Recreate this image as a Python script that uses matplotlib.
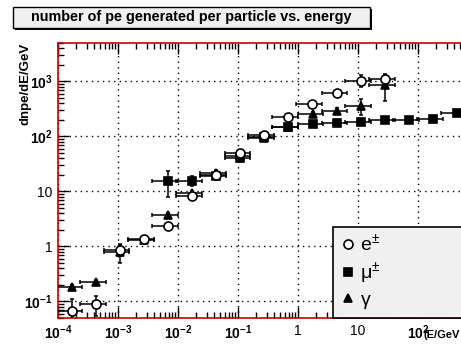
import numpy as np
import matplotlib
matplotlib.use("Agg")
import matplotlib.pyplot as plt
from matplotlib.patches import Rectangle
from matplotlib.ticker import LogLocator, FixedLocator, FixedFormatter, NullFormatter

plt.rcParams['font.family'] = ['Liberation Sans', 'DejaVu Sans']
plt.rcParams['mathtext.fontset'] = 'custom'
plt.rcParams['mathtext.bf'] = 'Liberation Sans:bold'
plt.rcParams['mathtext.rm'] = 'Liberation Sans'
plt.rcParams['mathtext.default'] = 'bf'

# ---- data ----
# electrons (open circles)
e_E   = [1.7e-4, 4.3e-4, 1.07e-3, 2.7e-3, 6.8e-3, 0.017, 0.043, 0.11, 0.27, 0.68, 1.7, 4.5, 11.2, 28]
e_val = [0.066, 0.089, 0.87, 1.36, 2.4, 8.1, 19.6, 50, 106, 224, 385, 620, 1040, 1090]
e_err = [0.045, 0.035, 0.2, 0.15, 0.3, 0.8, 2, 5, 10, 20, 35, 60, 250, 250]

# muons (filled squares)
m_E   = [6.8e-3, 0.017, 0.043, 0.11, 0.27, 0.68, 1.8, 4.5, 11.2, 28, 71, 178, 446]
m_val = [15.8, 15.8, 18.7, 41, 98, 148, 168, 174, 186, 195, 197, 210, 265]
m_err = [8, 3, 2, 4, 8, 10, 10, 8, 8, 8, 8, 8, 15]

# gammas (filled triangles)
g_E   = [1.7e-4, 4.3e-4, 1.07e-3, 2.7e-3, 6.8e-3, 0.017, 0.043, 0.11, 0.27, 0.68, 1.8, 4.5, 11.2, 28]
g_val = [0.18, 0.23, 0.8, 1.3, 3.7, 9.2, 22, 45, 95, 150, 255, 295, 365, 850]
g_err = [0.02, 0.02, 0.3, 0.15, 0.3, 0.8, 3, 5, 10, 15, 25, 40, 120, 400]

x_ticks  = [1e-4, 1e-3, 1e-2, 1e-1, 1, 10, 100]
x_labels = [r'$10^{-4}$', r'$10^{-3}$', r'$10^{-2}$', r'$10^{-1}$', '1', '10', r'$10^{2}$']
y_ticks  = [1e-1, 1, 10, 100, 1000]
y_labels = [r'$10^{-1}$', '1', '10', r'$10^{2}$', r'$10^{3}$']

fig = plt.figure(figsize=(4.61, 3.45), dpi=100)
# right edge of the frame runs off the picture, as in the original
ax = fig.add_axes([58/461, 27/345, 405/461, 275/345])
ax.set_xscale('log')
ax.set_yscale('log')
ax.set_xlim(1e-4, 10**2.75)
ax.set_ylim(0.05, 5000)

def draw(E, v, err, marker, face, ms, label):
    E = np.array(E)
    ax.errorbar(E, v, xerr=0.45 * E, yerr=err, fmt='none', ecolor='black',
                elinewidth=1.1, capsize=1.5, capthick=1.1, zorder=3)
    ax.plot(E, v, linestyle='none', marker=marker, markersize=ms,
            markerfacecolor=face, markeredgecolor='black', markeredgewidth=1.2,
            zorder=4, label=label)

draw(m_E, m_val, m_err, 's', 'black', 6.0, r'$\mathrm{\mu^{\pm}}$')
draw(g_E, g_val, g_err, '^', 'black', 6.0, r'$\mathrm{\gamma}$')
draw(e_E, e_val, e_err, 'o', 'white', 6.5, r'$\mathrm{e^{\pm}}$')

# grid + ticks like ROOT
ax.xaxis.set_major_locator(FixedLocator(x_ticks))
ax.xaxis.set_major_formatter(FixedFormatter(x_labels))
ax.yaxis.set_major_locator(FixedLocator(y_ticks))
ax.yaxis.set_major_formatter(FixedFormatter(y_labels))
ax.xaxis.set_minor_locator(LogLocator(base=10, subs=np.arange(2, 10), numticks=20))
ax.yaxis.set_minor_locator(LogLocator(base=10, subs=np.arange(2, 10), numticks=20))
ax.xaxis.set_minor_formatter(NullFormatter())
ax.yaxis.set_minor_formatter(NullFormatter())
ax.grid(True, which='major', color='black', linestyle=(0, (1, 3)), linewidth=1.0)
ax.tick_params(which='both', direction='in', top=True, right=False, color='black', width=1)
ax.tick_params(which='major', length=8, labelsize=10, pad=4)
ax.tick_params(which='minor', length=4)
for s in ax.spines.values():
    s.set_color('#cc0000')
    s.set_linewidth(1.2)

# legend
h, l = ax.get_legend_handles_labels()
order = [2, 0, 1]
leg = ax.legend([h[i] for i in order], [l[i] for i in order], loc='lower left',
                bbox_to_anchor=(275/405, 0.0, 130/405, 0.3), bbox_transform=ax.transAxes,
                mode='expand', frameon=True, fancybox=False, edgecolor='black',
                facecolor='#f0f0f0', framealpha=1, fontsize=14, handlelength=0.8,
                handletextpad=0.25, borderpad=0.35, labelspacing=0.3, borderaxespad=0)
leg.get_frame().set_linewidth(1.2)
leg.set_zorder(10)

# title box with shadow
fig.patches.append(Rectangle((15/461, 1 - 30/345), 357/461, 21/345, transform=fig.transFigure,
                             facecolor='black', edgecolor='none', zorder=1))
fig.patches.append(Rectangle((13/461, 1 - 28/345), 357/461, 21/345, transform=fig.transFigure,
                             facecolor='#f0f0f0', edgecolor='black', linewidth=1, zorder=2))
fig.text(191.5/461, 1 - 17.5/345, 'number of pe generated per particle vs. energy',
         ha='center', va='center', fontsize=10.4, fontweight='bold', zorder=3)

fig.text(25/461, 1 - 43/345, 'dnpe/dE/GeV', rotation=90, ha='center', va='top',
         fontsize=9.5, fontweight='bold')
fig.text(460/461, 1 - 335/345, '(E/GeV', ha='right', va='center',
         fontsize=8, fontweight='bold')

fig.savefig('out.png', dpi=100)
